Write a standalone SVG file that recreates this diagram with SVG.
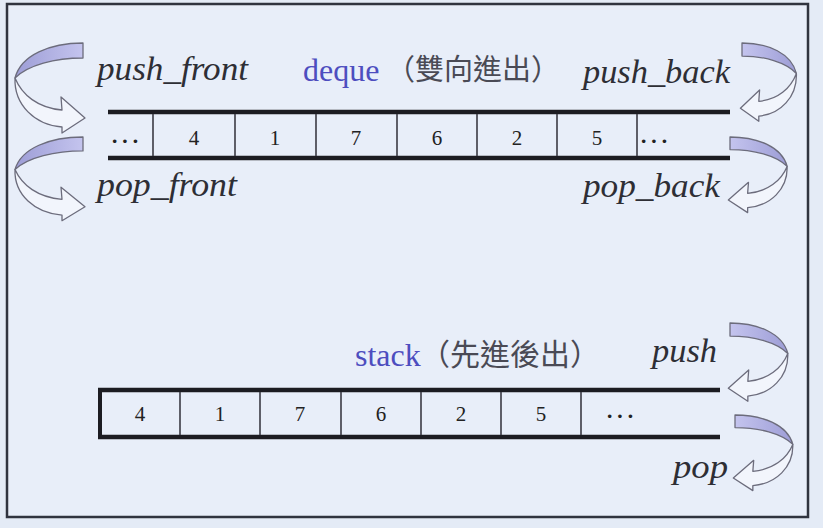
<svg xmlns="http://www.w3.org/2000/svg" xmlns:xlink="http://www.w3.org/1999/xlink" width="823" height="528" viewBox="0 0 823 528">
<style>
.lbl{font-family:"Liberation Serif","Times New Roman",serif;font-style:italic;font-size:33px;fill:#2e2e35}
.ttl{font-family:"Liberation Serif","Times New Roman",serif;font-size:32px;fill:#4d4dbf}
.cjk{font-family:"Noto Sans CJK TC","Noto Sans CJK SC",sans-serif;fill:#4a4a55}
.num{font-family:"Liberation Serif","Times New Roman",serif;font-size:21px;fill:#222;text-anchor:middle}
.dots{font-family:"Liberation Serif","Times New Roman",serif;font-size:22px;font-weight:bold;fill:#222;letter-spacing:3px}
.rail{stroke:#1c1c22;stroke-width:4.5;stroke-linecap:butt}
.div{stroke:#3a3a44;stroke-width:1.6}
.back{fill:url(#bandGrad);stroke:#6c6c7c;stroke-width:1.3;stroke-linejoin:round}
.front{fill:#f2f5fc;stroke:#6c6c7c;stroke-width:1.3;stroke-linejoin:round}
</style>
<defs>
<linearGradient id="bandGrad" x1="0" y1="0" x2="1" y2="0">
<stop offset="0" stop-color="#9d9dd6"/>
<stop offset="1" stop-color="#c4c4ee"/>
</linearGradient>
<g id="curl">
<path class="back" vector-effect="non-scaling-stroke" d="M0,0 C-33,0 -62,12 -68,35 C-55,22 -28,15 0,15 Z"/>
<path class="front" vector-effect="non-scaling-stroke" d="M-68,35 C-69,62 -48,82 -21,84 L-21,90 L2,75 L-22,54 L-21,67 C-45,65 -61,52 -68,35 Z"/>
</g>
</defs>
<rect x="0" y="0" width="823" height="528" fill="#e4ebf6"/>
<rect id="frame" x="7" y="4" width="801" height="513" fill="#e8eef9" stroke="#30343f" stroke-width="2.5"/>

<g id="deque">
<line class="rail" x1="108" y1="112" x2="730" y2="112"/>
<line class="rail" x1="108" y1="158" x2="730" y2="158"/>
<g>
<line class="div" x1="153" y1="114" x2="153" y2="156"/>
<line class="div" x1="235" y1="114" x2="235" y2="156"/>
<line class="div" x1="316" y1="114" x2="316" y2="156"/>
<line class="div" x1="397" y1="114" x2="397" y2="156"/>
<line class="div" x1="477" y1="114" x2="477" y2="156"/>
<line class="div" x1="557" y1="114" x2="557" y2="156"/>
<line class="div" x1="637" y1="114" x2="637" y2="156"/>
</g>
<text class="dots" x="111" y="148">···</text>
<text class="num" x="194" y="145">4</text>
<text class="num" x="275" y="145">1</text>
<text class="num" x="356" y="145">7</text>
<text class="num" x="437" y="145">6</text>
<text class="num" x="517" y="145">2</text>
<text class="num" x="597" y="145">5</text>
<text class="dots" x="640" y="148">···</text>
<text class="ttl" x="303" y="81">deque</text>
<text class="cjk" x="386" y="80" font-size="29">（雙向進出）</text>
</g>

<g id="stack">
<line class="rail" x1="98" y1="390" x2="720" y2="390"/>
<line class="rail" x1="98" y1="437" x2="720" y2="437"/>
<line x1="100" y1="388" x2="100" y2="439" stroke="#1c1c22" stroke-width="4"/>
<line class="div" x1="180" y1="392" x2="180" y2="435"/>
<line class="div" x1="260" y1="392" x2="260" y2="435"/>
<line class="div" x1="341" y1="392" x2="341" y2="435"/>
<line class="div" x1="421" y1="392" x2="421" y2="435"/>
<line class="div" x1="501" y1="392" x2="501" y2="435"/>
<line class="div" x1="581" y1="392" x2="581" y2="435"/>
<text class="num" x="140" y="421">4</text>
<text class="num" x="220" y="421">1</text>
<text class="num" x="300" y="421">7</text>
<text class="num" x="381" y="421">6</text>
<text class="num" x="461" y="421">2</text>
<text class="num" x="541" y="421">5</text>
<text class="dots" x="606" y="423">···</text>
<text class="ttl" x="355" y="366">stack</text>
<text class="cjk" x="420" y="365" font-size="30">（先進後出）</text>
</g>

<g id="labels">
<text id="push_front" class="lbl" x="97" y="80" textLength="151" lengthAdjust="spacingAndGlyphs">push_front</text>
<text id="pop_front" class="lbl" x="97" y="196" textLength="140" lengthAdjust="spacingAndGlyphs">pop_front</text>
<text id="push_back" class="lbl" x="583" y="83" textLength="147" lengthAdjust="spacingAndGlyphs">push_back</text>
<text id="pop_back" class="lbl" x="583" y="197" textLength="137" lengthAdjust="spacingAndGlyphs">pop_back</text>
<text id="push" class="lbl" x="652" y="362" textLength="65" lengthAdjust="spacingAndGlyphs">push</text>
<text id="pop" class="lbl" x="673" y="478" textLength="55" lengthAdjust="spacingAndGlyphs">pop</text>
</g>

<g id="connectors">
<use xlink:href="#curl" href="#curl" transform="translate(83,43)"/>
<use xlink:href="#curl" href="#curl" transform="translate(83,137) scale(1,0.93)"/>
<use xlink:href="#curl" href="#curl" transform="translate(742,43) scale(-0.8,0.87)"/>
<use xlink:href="#curl" href="#curl" transform="translate(730,137) scale(-0.84,0.84)"/>
<use xlink:href="#curl" href="#curl" transform="translate(730,323) scale(-0.85,0.87)"/>
<use xlink:href="#curl" href="#curl" transform="translate(735,415) scale(-0.85,0.84)"/>
</g>
</svg>
